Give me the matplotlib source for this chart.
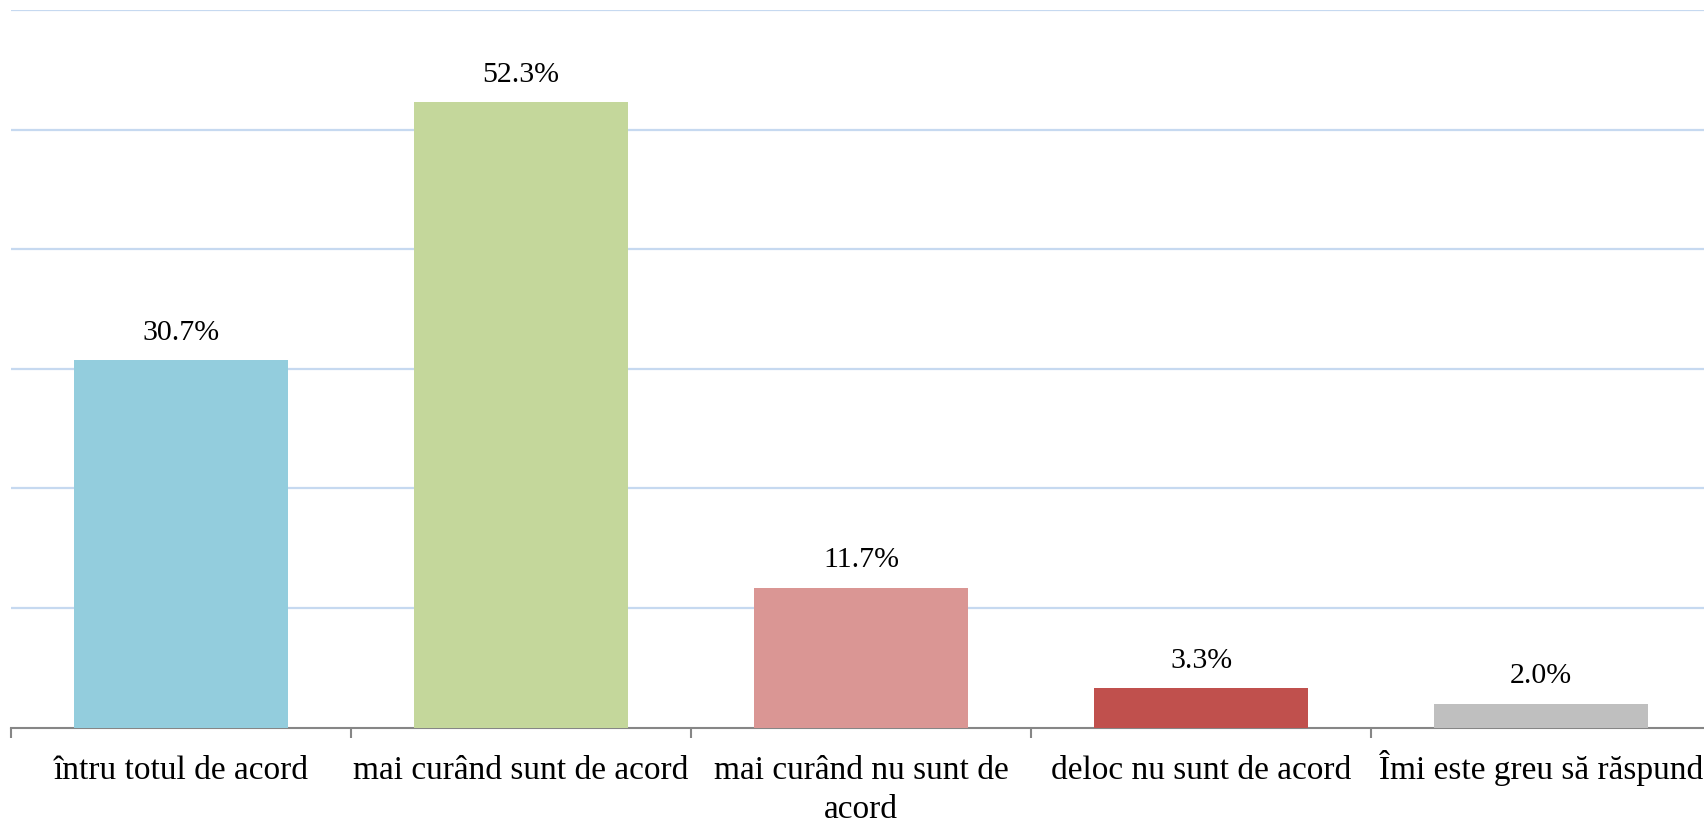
import matplotlib
matplotlib.use("Agg")
import matplotlib.pyplot as plt
import numpy as np

categories = ["întru totul de acord", "mai curând sunt de acord",
              "mai curând nu sunt de\nacord", "deloc nu sunt de acord",
              "Îmi este greu să răspund"]
values = [30.7, 52.3, 11.7, 3.3, 2.0]
colors = ["#93CDDD", "#C4D79B", "#DA9694", "#C0504D", "#BFBFBF"]

W, H = 1704, 823
fig = plt.figure(figsize=(W / 100, H / 100), dpi=100)
plt.rcParams['font.family'] = ['Liberation Serif', 'DejaVu Serif']

left, right = 11, 11 + 340 * 5
bottom, top = 727.7, 10
ax = fig.add_axes([left / W, 1 - bottom / H, (right - left) / W, (bottom - top) / H])

x = np.arange(len(values))
ax.bar(x, values, width=0.63, color=colors, zorder=3)
ax.set_xlim(-0.5, len(values) - 0.5)
ax.set_ylim(0, 60)
ax.set_yticks(np.arange(10, 61, 10))
ax.yaxis.grid(True, color="#C6D9F0", linewidth=1.6, zorder=0)
ax.tick_params(axis='y', left=False, labelleft=False)

for s in ["top", "right", "left"]:
    ax.spines[s].set_visible(False)
ax.spines["bottom"].set_color("#868686")
ax.spines["bottom"].set_linewidth(1.5)

ax.set_xticks(x)
ax.set_xticklabels([""] * len(x))
ax.tick_params(axis='x', which='major', length=0)
ax.set_xticks(np.arange(-0.5, len(values), 1.0), minor=True)
ax.tick_params(axis='x', which='minor', length=7.5, width=1.5, color="#868686")

# category labels, baseline-aligned lines (px -> pt: *0.72)
for xi, cat in zip(x, categories):
    for i, line in enumerate(cat.split("\n")):
        ax.annotate(line, (xi, 0), xycoords=("data", "axes fraction"),
                    xytext=(0, -(51 + 39 * i) * 0.72), textcoords="offset points",
                    ha="center", va="baseline", fontsize=24, annotation_clip=False)

for xi, v in zip(x, values):
    ax.annotate(f"{v:.1f}%", (xi, v), xytext=(0, 10.5), textcoords="offset points",
                ha="center", va="bottom", fontsize=21.5)

fig.savefig("out.png", dpi=100)
